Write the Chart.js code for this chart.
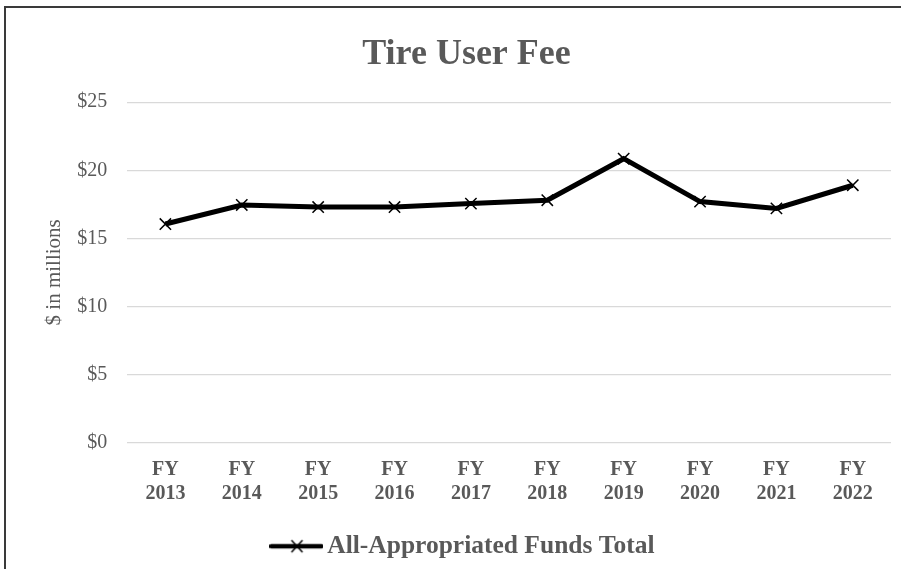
<!DOCTYPE html>
<html>
<head>
<meta charset="utf-8">
<script src="https://cdn.jsdelivr.net/npm/chart.js@4.4.1/dist/chart.umd.min.js"></script>
<style>
    html, body { margin: 0; padding: 0; background: #fff; overflow: hidden; }
    #wrap { position: relative; width: 901px; height: 569px; }
    #frame { position: absolute; left: 4px; top: 6px; width: 1000px; height: 1000px; border: 2px solid #3a3a3a; pointer-events: none; }
</style>
</head>
<body>
<div id="wrap">
    <canvas id="feeChart" width="901" height="569"></canvas>
    <div id="frame"></div>
</div>
<script>
const years = ['2013', '2014', '2015', '2016', '2017', '2018', '2019', '2020', '2021', '2022'];
const totals = [16.05, 17.45, 17.3, 17.3, 17.55, 17.8, 20.85, 17.7, 17.2, 18.9];
const yTicks = [0, 5, 10, 15, 20, 25];

const grey = '#595959';
const serif = "'Liberation Serif', 'Times New Roman', serif";

// legend sample: thick line with an x through the middle
function legendIcon() {
    const c = document.createElement('canvas');
    c.width = 54;
    c.height = 16;
    const g = c.getContext('2d');
    g.strokeStyle = '#000';
    g.lineWidth = 4.5;
    g.lineCap = 'round';
    g.beginPath();
    g.moveTo(2, 8);
    g.lineTo(52, 8);
    g.stroke();
    g.lineWidth = 1.5;
    g.lineCap = 'butt';
    g.beginPath();
    g.moveTo(22, 2); g.lineTo(33, 14);
    g.moveTo(33, 2); g.lineTo(22, 14);
    g.stroke();
    return c;
}

const ctx = document.getElementById('feeChart').getContext('2d');
const icon = legendIcon();

new Chart(ctx, {
    type: 'line',
    data: {
        labels: years.map(y => ['FY', y]),
        datasets: [{
            label: 'All-Appropriated Funds Total',
            data: totals,
            borderColor: '#000',
            borderWidth: 5,
            tension: 0,
            pointStyle: 'crossRot',
            pointRadius: 8,
            pointBorderWidth: 1.5,
            pointBorderColor: '#000',
            pointBackgroundColor: '#000'
        }]
    },
    options: {
        responsive: false,
        animation: false,
        layout: { padding: { left: 42, right: 10, top: 12, bottom: 0 } },
        plugins: {
            title: {
                display: true,
                text: 'Tire User Fee',
                color: grey,
                font: { family: serif, size: 36, weight: 'bold' },
                padding: { top: 21, bottom: 26 }
            },
            legend: {
                position: 'bottom',
                labels: {
                    color: grey,
                    font: { family: serif, size: 25.5, weight: 'bold' },
                    usePointStyle: true,
                    pointStyleWidth: 36,
                    padding: 21,
                    generateLabels: chart => chart.data.datasets.map((ds, i) => ({
                        text: ds.label,
                        pointStyle: icon,
                        fontColor: grey,
                        lineWidth: 0,
                        datasetIndex: i
                    }))
                }
            },
            tooltip: { enabled: false }
        },
        scales: {
            x: {
                offset: true,
                grid: { display: false },
                border: { display: false },
                ticks: {
                    color: grey,
                    font: { family: serif, size: 20, weight: 'bold' },
                    maxRotation: 0,
                    padding: 7
                }
            },
            y: {
                min: 0,
                max: 25,
                afterBuildTicks: axis => { axis.ticks = yTicks.map(v => ({ value: v })); },
                grid: { color: '#d9d9d9', lineWidth: 1.2, drawTicks: false },
                border: { display: false },
                ticks: {
                    color: grey,
                    font: { family: serif, size: 20 },
                    padding: 20,
                    callback: v => '$' + v
                },
                title: {
                    display: true,
                    text: '$ in millions',
                    color: grey,
                    font: { family: serif, size: 21 },
                    padding: { top: 0, bottom: -10 }
                }
            }
        }
    }
});
</script>
</body>
</html>
